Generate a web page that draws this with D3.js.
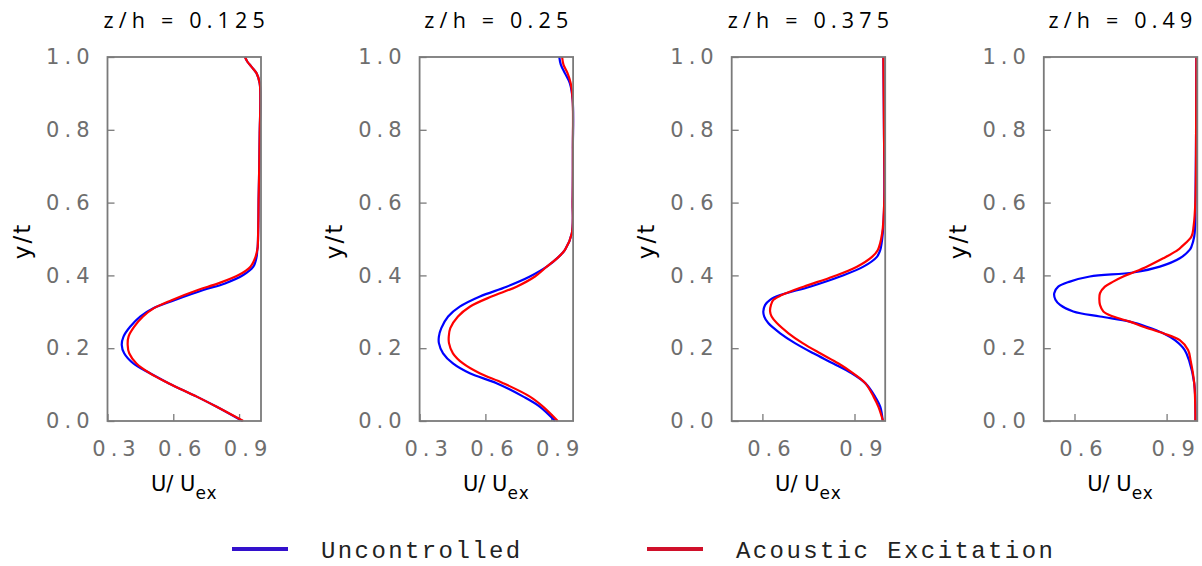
<!DOCTYPE html>
<html>
<head>
<meta charset="utf-8">
<script src="https://cdn.jsdelivr.net/npm/d3@7"></script>
<style>
  body { margin: 0; background: #fff; }
  svg { display: block; }
</style>
</head>
<body>
<svg id="chart" width="1202" height="566"></svg>
<script>
const svg = d3.select("#chart");

const width = 1202;
const height = 566;
const marginTop = 57;
const plotBottom = 421;
const panelLeft0 = 107.5;
const panelStep = 312.1;
const panelWidth = 153.5;

// spanwise stations
const stations = ["0.125", "0.25", "0.375", "0.49"];
const xMins = [0.3, 0.3, 0.5, 0.5];
const xTicks = [[0.3, 0.6, 0.9], [0.3, 0.6, 0.9], [0.6, 0.9], [0.6, 0.9]];
const yTicks = [0, 0.2, 0.4, 0.6, 0.8, 1.0];
const seriesNames = ["Uncontrolled", "Acoustic Excitation"];

// z/h = 0.125
const y1 = [0, 0.039, 0.067, 0.104, 0.131, 0.158, 0.186, 0.209, 0.232, 0.259, 0.287, 0.31, 0.332, 0.36, 0.378, 0.401, 0.424, 0.451, 0.47, 0.479, 0.55, 0.607, 0.7, 0.791, 0.882, 0.928, 0.955, 0.973, 0.987, 1.0];
const unc1 = [0.915, 0.798, 0.707, 0.578, 0.494, 0.418, 0.376, 0.365, 0.373, 0.403, 0.449, 0.509, 0.605, 0.737, 0.836, 0.919, 0.965, 0.98, 0.983, 0.985, 0.988, 0.989, 0.992, 0.994, 0.997, 0.994, 0.98, 0.957, 0.938, 0.927];
const acu1 = [0.919, 0.798, 0.707, 0.578, 0.494, 0.432, 0.399, 0.392, 0.396, 0.422, 0.462, 0.512, 0.592, 0.712, 0.805, 0.898, 0.952, 0.975, 0.983, 0.985, 0.988, 0.989, 0.992, 0.994, 0.997, 0.994, 0.98, 0.957, 0.938, 0.927];

// z/h = 0.25
const y2 = [0, 0.039, 0.067, 0.104, 0.131, 0.158, 0.186, 0.214, 0.232, 0.255, 0.287, 0.314, 0.342, 0.369, 0.397, 0.424, 0.451, 0.47, 0.515, 0.607, 0.75, 0.882, 0.928, 0.955, 0.979, 1.0];
const unc2 = [0.918, 0.849, 0.773, 0.651, 0.529, 0.452, 0.407, 0.388, 0.388, 0.399, 0.43, 0.483, 0.575, 0.697, 0.803, 0.88, 0.934, 0.963, 0.994, 0.998, 0.999, 0.998, 0.985, 0.963, 0.944, 0.937];
const acu2 = [0.93, 0.864, 0.803, 0.681, 0.574, 0.498, 0.452, 0.434, 0.433, 0.44, 0.475, 0.529, 0.628, 0.742, 0.826, 0.88, 0.934, 0.963, 0.994, 0.998, 0.999, 0.998, 0.989, 0.975, 0.956, 0.95];

// z/h = 0.375
const y3 = [0, 0.039, 0.067, 0.104, 0.131, 0.158, 0.186, 0.214, 0.241, 0.269, 0.287, 0.301, 0.319, 0.333, 0.346, 0.369, 0.397, 0.424, 0.451, 0.47, 0.515, 0.607, 0.8, 1.0];
const unc3 = [0.992, 0.984, 0.967, 0.935, 0.891, 0.831, 0.766, 0.706, 0.658, 0.619, 0.606, 0.603, 0.609, 0.625, 0.658, 0.755, 0.853, 0.929, 0.973, 0.984, 0.992, 0.997, 0.996, 0.994];
const acu3 = [0.993, 0.978, 0.962, 0.935, 0.896, 0.848, 0.788, 0.731, 0.685, 0.647, 0.63, 0.625, 0.628, 0.636, 0.663, 0.734, 0.831, 0.908, 0.957, 0.976, 0.99, 0.997, 0.996, 0.994];

// z/h = 0.49
const y4 = [0, 0.104, 0.167, 0.195, 0.222, 0.241, 0.259, 0.273, 0.287, 0.301, 0.319, 0.333, 0.351, 0.369, 0.383, 0.397, 0.408, 0.424, 0.447, 0.47, 0.479, 0.507, 0.535, 0.607, 0.79, 1.0];
const unc4 = [0.994, 0.99, 0.973, 0.959, 0.927, 0.889, 0.835, 0.78, 0.683, 0.596, 0.553, 0.538, 0.534, 0.547, 0.585, 0.65, 0.791, 0.878, 0.943, 0.975, 0.981, 0.99, 0.993, 0.994, 0.996, 0.997];
const acu4 = [0.994, 0.99, 0.978, 0.97, 0.943, 0.889, 0.824, 0.78, 0.726, 0.694, 0.683, 0.681, 0.683, 0.699, 0.726, 0.759, 0.791, 0.835, 0.889, 0.937, 0.949, 0.981, 0.988, 0.994, 0.996, 0.997];

const yArrays = [y1, y2, y3, y4];
const uncArrays = [unc1, unc2, unc3, unc4];
const acuArrays = [acu1, acu2, acu3, acu4];

const curveColors = ["#0000ff", "#ff0000"];
const legendColors = ["#3311cc", "#d0102a"];
const axisGray = "#7a7a7a";
const labelGray = "#6e6e6e";
const sansFont = "'DejaVu Sans', Verdana, sans-serif";
const titleFont = "'Open Sans', 'DejaVu Sans', sans-serif";

const yScale = d3.scaleLinear()
    .domain([0, 1])
    .range([plotBottom, marginTop]);

stations.forEach((st, i) => {
    const left = panelLeft0 + i * panelStep;
    const xScale = d3.scaleLinear()
        .domain([xMins[i], 1.0])
        .range([left, left + panelWidth]);

    const g = svg.append("g");

    // title
    g.append("text")
        .attr("x", left + panelWidth / 2 + 2.5)
        .attr("y", 28)
        .attr("text-anchor", "middle")
        .attr("font-family", titleFont)
        .attr("font-size", 21.5)
        .attr("letter-spacing", 5.2)
        .attr("fill", "#000")
        .text(`z/h = ${st}`);

    // y axis
    const yAxis = g.append("g")
        .attr("transform", `translate(${left},0)`)
        .call(d3.axisLeft(yScale).tickValues(yTicks).tickFormat(d3.format(".1f"))
            .tickSize(-7).tickPadding(13));
    yAxis.select(".domain").remove();
    yAxis.selectAll(".tick line").attr("stroke", axisGray).attr("stroke-width", 1.3);
    yAxis.selectAll(".tick text")
        .attr("font-family", sansFont)
        .attr("font-size", 21)
        .attr("letter-spacing", 5)
        .attr("fill", labelGray);

    // x axis
    const xAxis = g.append("g")
        .attr("transform", `translate(0,${plotBottom})`)
        .call(d3.axisBottom(xScale).tickValues(xTicks[i]).tickFormat(d3.format(".1f"))
            .tickSize(-7).tickPadding(20));
    xAxis.select(".domain").remove();
    xAxis.selectAll(".tick line").attr("stroke", axisGray).attr("stroke-width", 1.3);
    xAxis.selectAll(".tick text")
        .attr("font-family", sansFont)
        .attr("font-size", 21)
        .attr("letter-spacing", 5)
        .attr("dx", 8.5)
        .attr("fill", labelGray);

    // curves
    const line = d3.line()
        .x(d => xScale(d[1]))
        .y(d => yScale(d[0]))
        .curve(d3.curveCatmullRom.alpha(0.5));

    [uncArrays[i], acuArrays[i]].forEach((vals, k) => {
        const pts = yArrays[i].map((yv, j) => [yv, vals[j]]);
        g.append("path")
            .datum(pts)
            .attr("d", line)
            .attr("fill", "none")
            .attr("stroke", curveColors[k])
            .attr("stroke-width", 2.2);
    });

    // frame
    g.append("rect")
        .attr("x", left)
        .attr("y", marginTop)
        .attr("width", panelWidth)
        .attr("height", plotBottom - marginTop)
        .attr("fill", "none")
        .attr("stroke", axisGray)
        .attr("stroke-width", 1.8);

    // y label
    g.append("text")
        .attr("transform", `translate(${left - 78},${(marginTop + plotBottom) / 2 + 2}) rotate(-90)`)
        .attr("text-anchor", "middle")
        .attr("font-family", sansFont)
        .attr("font-size", 23)
        .attr("letter-spacing", 2)
        .attr("fill", "#000")
        .text("y/t");

    // x label U/Uex
    const xl = g.append("text")
        .attr("x", left + panelWidth / 2)
        .attr("y", 491)
        .attr("text-anchor", "middle")
        .attr("font-family", sansFont)
        .attr("font-size", 21)
        .attr("fill", "#000");
    xl.append("tspan").text("U/ U");
    xl.append("tspan").attr("dy", 8).attr("font-size", 17).attr("letter-spacing", 1).text("ex");
});

// legend
const legendX = [232, 647];
seriesNames.forEach((name, k) => {
    svg.append("line")
        .attr("x1", legendX[k])
        .attr("x2", legendX[k] + 56)
        .attr("y1", 549)
        .attr("y2", 549)
        .attr("stroke", legendColors[k])
        .attr("stroke-width", 4);
    svg.append("text")
        .attr("x", legendX[k] + 89)
        .attr("y", 558)
        .attr("font-family", "'Liberation Mono', monospace")
        .attr("font-size", 24)
        .attr("letter-spacing", 2.4)
        .attr("fill", "#222")
        .text(name);
});
</script>
</body>
</html>
